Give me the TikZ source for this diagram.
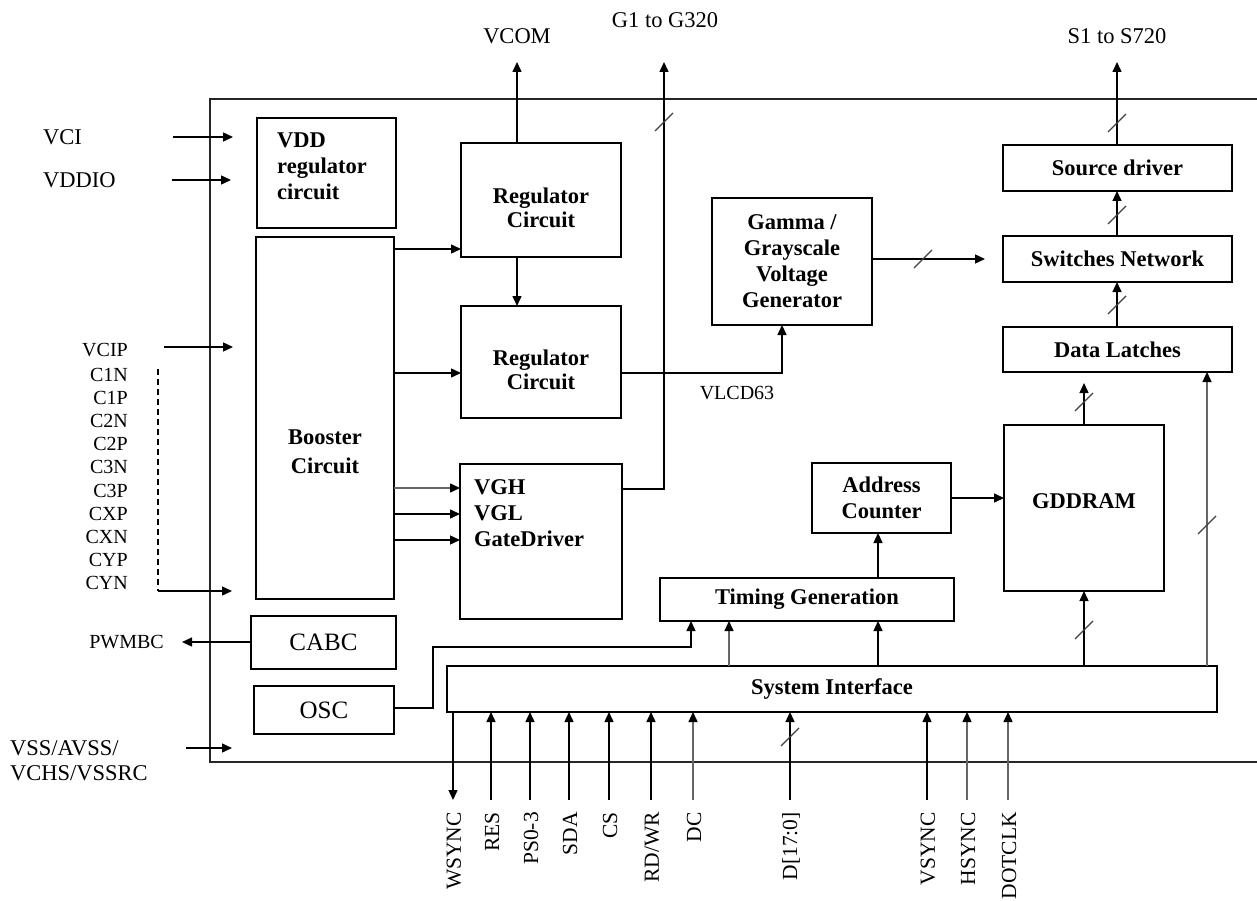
\documentclass[tikz,border=0pt]{standalone}
\usepackage{fontspec}
\setmainfont{Liberation Serif}
\usetikzlibrary{arrows.meta}

\newcommand{\busmark}[1]{\draw[busmk] (#1) ++(-9,9) -- ++(18,-18);}

\begin{document}
\begin{tikzpicture}[
  x=1pt, y=-1pt,
  blk/.style={draw, line width=1.5pt, inner sep=2pt, outer sep=0pt, align=center,
    font=\bfseries\fontsize{22.5}{26}\selectfont},
  sblk/.style={blk, font=\fontsize{25}{28}\selectfont},
  btext/.style={inner sep=2pt, font=\bfseries\fontsize{22.5}{26}\selectfont},
  wire/.style={line width=1.4pt},
  arr/.style={wire, -{Triangle[length=10pt,width=9pt]}},
  garr/.style={wire, draw=black!60, -{Triangle[length=10pt,width=9pt,color=black]}},
  dashwire/.style={line width=1.2pt, dash pattern=on 6pt off 4pt},
  outline/.style={line width=1.3pt, draw=black!85},
  busmk/.style={line width=1.2pt, draw=black!75},
  pinl/.style={inner sep=2pt, font=\fontsize{20}{23}\selectfont},
  topl/.style={inner sep=2pt, font=\fontsize{22.5}{25}\selectfont},
  pinb/.style={inner sep=2pt, rotate=90, anchor=east, font=\fontsize{21.5}{24}\selectfont}
]
\useasboundingbox (0,0) rectangle (1257,901);

% chip outline
\draw[outline] (1257,99) -- (210,99) -- (210,762) -- (1257,762);

% blocks
\node[blk, minimum width=139pt, minimum height=110pt] (vddreg) at (326.5,173) {};
\node[btext, align=left, anchor=north west] (vddtxt) at ([xshift=18pt,yshift=-13pt]vddreg.north west) {VDD\\regulator\\circuit};
\node[blk, minimum width=138pt, minimum height=362pt] (booster) at (325,418) {};
\node[btext, align=center, font=\bfseries\fontsize{22.5}{29}\selectfont] (boosttxt) at ([yshift=-34pt]booster.center) {Booster\\Circuit};
\node[blk, minimum width=160pt, minimum height=114pt] (reg1) at (541,200) {};
\node[btext, align=center, font=\bfseries\fontsize{22.5}{24.5}\selectfont] (reg1txt) at ([yshift=-8pt]reg1.center) {Regulator\\Circuit};
\node[blk, minimum width=160pt, minimum height=112pt] (reg2) at (541,362) {};
\node[btext, align=center, font=\bfseries\fontsize{22.5}{24.5}\selectfont] (reg2txt) at ([yshift=-8pt]reg2.center) {Regulator\\Circuit};
\node[blk, minimum width=162pt, minimum height=155pt] (vgh) at (541,541.5) {};
\node[btext, align=left, anchor=north west] (vghtxt) at ([xshift=12pt,yshift=-13pt]vgh.north west) {VGH\\VGL\\GateDriver};
\node[blk, minimum width=160pt, minimum height=127pt] (gamma) at (792,261.5) {Gamma /\\Grayscale\\Voltage\\Generator};
\node[blk, minimum width=229pt, minimum height=46pt] (srcdrv) at (1117.5,168) {Source driver};
\node[blk, minimum width=229pt, minimum height=46pt] (switches) at (1117.5,259) {Switches Network};
\node[blk, minimum width=229pt, minimum height=45pt] (latches) at (1117.5,349.5) {Data Latches};
\node[blk, minimum width=160pt, minimum height=166pt] (gddram) at (1084,508) {};
\node[btext] (gddtxt) at ([yshift=7pt]gddram.center) {GDDRAM};
\node[blk, minimum width=139pt, minimum height=70pt] (addr) at (881.5,498) {Address\\Counter};
\node[blk, minimum width=294pt, minimum height=43pt] (timing) at (807,599.5) {Timing Generation};
\node[blk, minimum width=770pt, minimum height=46pt] (sysif) at (832,689) {System Interface};
\node[sblk, minimum width=145pt, minimum height=53pt] (cabc) at (323.5,642.5) {CABC};
\node[sblk, minimum width=140pt, minimum height=48pt] (osc) at (324,710) {OSC};

% left side pins
\node[topl, anchor=west] (vci) at (41,137) {VCI};
\node[topl, anchor=west] (vddio) at (41,180) {VDDIO};
\node[pinl, anchor=east] (vcip) at (130,350.5) {VCIP};
\foreach \nm [count=\i] in {C1N,C1P,C2N,C2P,C3N,C3P,CXP,CXN,CYP,CYN}
  \node[pinl, anchor=east] (\nm) at (130,{375+23.1*(\i-1)}) {\nm};
\node[pinl, anchor=east] (pwmbc) at (166,642) {PWMBC};
\node[topl, anchor=west, align=left] (vss) at (8,760.5) {VSS/AVSS/\\VCHS/VSSRC};

\coordinate (vciin) at (173,137);   \coordinate (vcitip) at (233,137);
\coordinate (vddioin) at (172,180); \coordinate (vddiotip) at (231,180);
\coordinate (vcipin) at (164,347);  \coordinate (vciptip) at (233,347);
\coordinate (cdash) at (158,369);   \coordinate (cbend) at (158,591);
\coordinate (cyntip) at (232,591);
\coordinate (vssin) at (186,748);   \coordinate (vsstip) at (232,748);
\coordinate (pwmtip) at (182,642);

\draw[arr] (vciin) -- (vcitip);
\draw[arr] (vddioin) -- (vddiotip);
\draw[arr] (vcipin) -- (vciptip);
\draw[dashwire] (cdash) -- (cbend);
\draw[arr] (cbend) -- (cyntip);
\draw[arr] (vssin) -- (vsstip);
\draw[arr] (cabc.west |- pwmtip) -- (pwmtip);

% top outputs
\node[topl] (vcom) at (517,36) {VCOM};
\node[topl] (gout) at (665,20) {G1 to G320};
\node[topl] (sout) at (1117,36.5) {S1 to S720};
\coordinate (vcomtip) at (517,62);
\coordinate (gtip) at (664,62);
\coordinate (stip) at (1117,62);

\draw[arr] (reg1.north -| vcomtip) -- (vcomtip);
\draw[arr] (vgh.east |- 0,489) -| (gtip);
\busmark{664,122}
\draw[arr] (srcdrv.north -| stip) -- (stip);
\busmark{1117,123}

% power path
\draw[arr] (booster.east |- 0,249) -- (reg1.west |- 0,249);
\draw[arr] (booster.east |- 0,373) -- (reg2.west |- 0,373);
\draw[arr] (reg1.south -| vcomtip) -- (reg2.north -| vcomtip);
\draw[garr] (booster.east |- 0,488) -- (vgh.west |- 0,488);
\draw[arr] (booster.east |- 0,514) -- (vgh.west |- 0,514);
\draw[arr] (booster.east |- 0,540) -- (vgh.west |- 0,540);
\draw[arr] (reg2.east |- 0,373) -| (gamma.south -| 782,0);
\node[pinl] (vlcd) at (737,393) {VLCD63};

% source path
\coordinate (gamtip) at (985,259);
\draw[arr] (gamma.east |- gamtip) -- (gamtip);
\busmark{923,259}
\draw[arr] (switches.north -| stip) -- (srcdrv.south -| stip);
\busmark{1117,215}
\draw[arr] (latches.north -| stip) -- (switches.south -| stip);
\busmark{1117,305}
\coordinate (gdtip) at (1084,383);
\draw[arr] (gddram.north) -- (gdtip);
\busmark{1084,402}
\draw[arr] (sysif.north -| gddram.south) -- (gddram.south);
\busmark{1084,630}
\draw[garr] (sysif.north -| 1207,0) -- (latches.south -| 1207,0);
\busmark{1207,525}

% control path
\draw[arr] (addr.east) -- (gddram.west |- addr.east);
\draw[arr] (timing.north -| 878,0) -- (addr.south -| 878,0);
\draw[arr] (sysif.north -| 878,0) -- (timing.south -| 878,0);
\draw[garr] (sysif.north -| 729,0) -- (timing.south -| 729,0);
\coordinate (oscbend) at (433,647);
\draw[arr] (osc.east |- 0,708) -| (oscbend) -| (timing.south -| 691,0);

% bottom pins
\foreach \px/\nm [count=\i] in {453/WSYNC,491/RES,530/PS0-3,569/SDA,609/CS,651/{RD/WR},693/DC,790/{D[17:0]},927/VSYNC,967/HSYNC,1008/DOTCLK}{
  \coordinate (pe\i) at (\px,800);
  \node[pinb] (pin\i) at ({\px+1},810) {\nm};
}
\draw[arr] (sysif.south -| pe1) -- (pe1);
\foreach \i in {2,3,4,5,6,8,9}
  \draw[arr] (pe\i) -- (sysif.south -| pe\i);
\foreach \i in {7,10,11}
  \draw[garr] (pe\i) -- (sysif.south -| pe\i);
\busmark{790,737}

\end{tikzpicture}
\end{document}
